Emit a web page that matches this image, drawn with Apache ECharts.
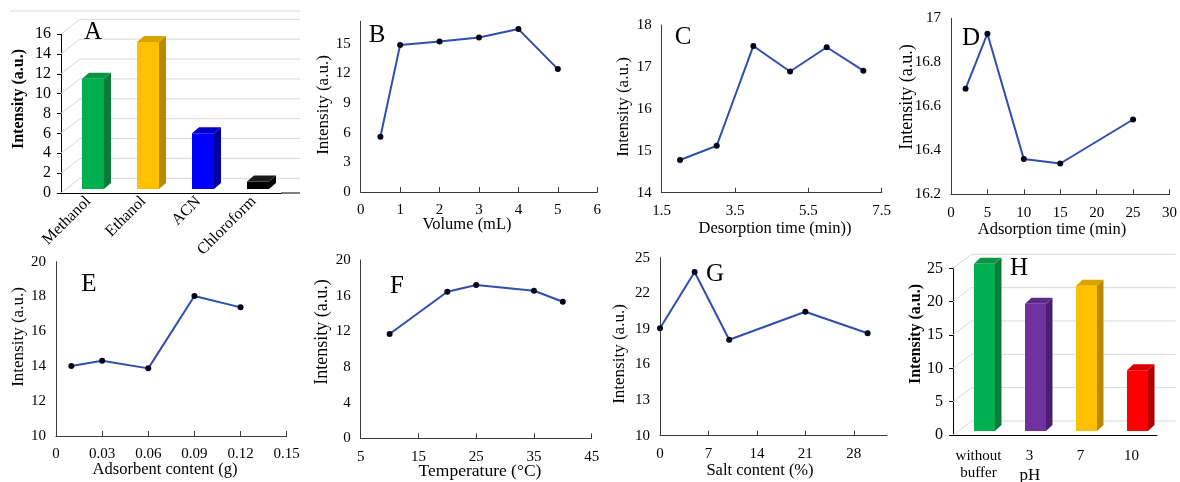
<!DOCTYPE html>
<html><head><meta charset="utf-8">
<script src="https://cdn.jsdelivr.net/npm/echarts@6.0.0/dist/echarts.min.js"></script>
<style>html,body{margin:0;padding:0;background:#fff}#c{width:1180px;height:482px}</style>
</head><body><div id="c"></div>
<script>
// ---- data ----
const catsA = ['Methanol', 'Ethanol', 'ACN', 'Chloroform'];
const valsA = [11.1, 14.8, 5.6, 0.75];
const ticksA = [0, 2, 4, 6, 8, 10, 12, 14, 16];

const xB = [0.5, 1, 2, 3, 4, 5];
const yB = [5.6, 14.9, 15.25, 15.65, 16.5, 12.45];

const xC = [2, 3, 4, 5, 6, 7];
const yC = [14.78, 15.12, 17.5, 16.89, 17.47, 16.91];

const xD = [2, 5, 10, 15, 25];
const yD = [16.68, 16.93, 16.36, 16.34, 16.54];

const xE = [0.01, 0.03, 0.06, 0.09, 0.12];
const yE = [14.02, 14.32, 13.88, 18.03, 17.38];

const xF = [10, 20, 25, 35, 40];
const yF = [11.7, 16.44, 17.19, 16.55, 15.32];

const xG = [0, 5, 10, 21, 30];
const yG = [19.05, 23.79, 18.09, 20.45, 18.63];

const catsH = ['without\nbuffer', '3', '7', '10'];
const valsH = [25.1, 19.1, 21.8, 9.1];
const ticksH = [0, 5, 10, 15, 20, 25];

// ---- styles ----
const FONT = 'Liberation Serif';
const colA = [['#00B050', '#0B7A3A', '#0A9444'], ['#FFC000', '#B98A00', '#D9A400'], ['#0000FF', '#00009E', '#0000C8'], ['#000000', '#000000', '#1a1a1a']];
const colH = [['#00B050', '#0B7A3A', '#0A9444'], ['#7030A0', '#4A1F6E', '#5E2888'], ['#FFC000', '#B98A00', '#D9A400'], ['#FF0000', '#B00000', '#D80000']];
const LINE = '#2E4FAF';
const AX = '#3a3a3a';

const chart = echarts.init(document.getElementById('c'));

const grids = [
  {left: 61, top: 34, width: 220, height: 159},       // A
  {left: 360.7, top: 21.2, width: 236.6, height: 170.8}, // B
  {left: 661.7, top: 25, width: 220, height: 167.7},   // C
  {left: 951, top: 18.3, width: 220.7, height: 176},   // D
  {left: 56, top: 261.7, width: 230.7, height: 174.3}, // E
  {left: 360.7, top: 260, width: 231, height: 178.3},  // F
  {left: 660, top: 257.7, width: 227, height: 178},    // G
  {left: 953, top: 268.3, width: 204, height: 166.7}   // H
];

const lblStyle = {fontFamily: FONT, fontSize: 15, color: '#000'};
function valX(i, min, max, interval, fmt, hideMax) {
  return {type: 'value', gridIndex: i, min, max, interval,
    axisLine: {show: true, lineStyle: {color: AX, width: 1}},
    axisTick: {show: true, inside: true, length: 5, lineStyle: {color: AX}},
    splitLine: {show: false},
    axisLabel: Object.assign({margin: 11, showMaxLabel: !hideMax, formatter: fmt}, lblStyle)};
}
function valY(i, min, max, interval, fmt, hideMax) {
  return {type: 'value', gridIndex: i, min, max, interval,
    axisLine: {show: true, lineStyle: {color: AX, width: 1}},
    axisTick: {show: false},
    splitLine: {show: false},
    axisLabel: Object.assign({margin: 10, showMaxLabel: !hideMax, formatter: fmt}, lblStyle)};
}
const f1 = v => String(+v.toFixed(1));
const f2 = v => String(+v.toFixed(2));

const xAxes = [
  {type: 'category', gridIndex: 0, data: catsA,
    axisLine: {show: true, lineStyle: {color: '#000'}}, axisTick: {show: false},
    axisLabel: {rotate: 45, interval: 0, margin: 6, fontFamily: FONT, fontSize: 16, color: '#000'}},
  valX(1, 0, 6, 1, f1),
  valX(2, 1.5, 7.5, 2, f1),
  valX(3, 0, 30, 5, f1),
  valX(4, 0, 0.15, 0.03, f2),
  valX(5, 5, 45, 10, f1),
  valX(6, 0, 32.8, 7, f1, true),
  {type: 'category', gridIndex: 7, data: catsH,
    axisLine: {show: true, lineStyle: {color: '#000'}}, axisTick: {show: false},
    axisLabel: {interval: 0, margin: 13, fontFamily: FONT, fontSize: 15, lineHeight: 17, color: '#000'}}
];
const yAxes = [
  {type: 'value', gridIndex: 0, min: 0, max: 16, interval: 2,
    axisLine: {show: true, lineStyle: {color: '#000'}},
    axisTick: {show: true, inside: false, length: 4, lineStyle: {color: '#000'}},
    splitLine: {show: false},
    axisLabel: {margin: 10, fontFamily: FONT, fontSize: 16, color: '#000'}},
  valY(1, 0, 17.3, 3, f1, true),
  valY(2, 14, 18, 1, f1),
  valY(3, 16.2, 17, 0.2, f1),
  valY(4, 10, 20, 2, f1),
  valY(5, 0, 20, 4, f1),
  valY(6, 10, 25, 3, f1),
  {type: 'value', gridIndex: 7, min: 0, max: 25, interval: 5,
    axisLine: {show: true, lineStyle: {color: '#000'}},
    axisTick: {show: true, inside: false, length: 4, lineStyle: {color: '#000'}},
    splitLine: {show: false},
    axisLabel: {margin: 10, fontFamily: FONT, fontSize: 16, color: '#000'}}
];

function wallRender(dx, dy) {
  return function (params, api) {
    const cs = params.coordSys;
    const y = api.coord([0, api.value(1)])[1];
    const l = cs.x, r = cs.x + cs.width + dx;
    return {type: 'polyline', shape: {points: [[l, y], [l + dx, y + dy], [r, y + dy]]},
      style: {stroke: '#d9d9d9', lineWidth: 1, fill: 'none'}};
  };
}
function barRender(cols, off, halfW, depth) {
  return function (params, api) {
    const idx = api.value(0), v = api.value(1);
    const b = api.coord([idx, 0]), t = api.coord([idx, v]);
    const cx = b[0] + off[0];
    const x0 = cx - halfW, x1 = cx + halfW;
    const yb = b[1] + off[1], yt = t[1] + off[1];
    const dx = depth[0], dy = depth[1];
    const c = cols[params.dataIndex];
    return {type: 'group', children: [
      {type: 'polygon', shape: {points: [[x1, yb], [x1, yt], [x1 + dx, yt + dy], [x1 + dx, yb + dy]]}, style: {fill: c[1]}},
      {type: 'polygon', shape: {points: [[x0, yt], [x1, yt], [x1 + dx, yt + dy], [x0 + dx, yt + dy]]}, style: {fill: c[2]}},
      {type: 'rect', shape: {x: x0, y: yt, width: x1 - x0, height: yb - yt}, style: {fill: c[0]}}
    ]};
  };
}
function lineSeries(i, xs, ys) {
  return {type: 'line', xAxisIndex: i, yAxisIndex: i, data: xs.map((x, k) => [x, ys[k]]),
    symbol: 'circle', symbolSize: 6, showSymbol: true,
    lineStyle: {color: LINE, width: 2}, itemStyle: {color: '#05051a'}, z: 3};
}

const series = [
  {type: 'custom', xAxisIndex: 0, yAxisIndex: 0, data: ticksA.map(v => [0, v]), renderItem: wallRender(19, -14.7), z: 1, silent: true},
  {type: 'custom', xAxisIndex: 0, yAxisIndex: 0, data: valsA.map((v, i) => [i, v]), renderItem: barRender(colA, [4.5, -4], 11, [7, -6]), z: 2},
  lineSeries(1, xB, yB),
  lineSeries(2, xC, yC),
  lineSeries(3, xD, yD),
  lineSeries(4, xE, yE),
  lineSeries(5, xF, yF),
  lineSeries(6, xG, yG),
  {type: 'custom', xAxisIndex: 7, yAxisIndex: 7, data: ticksH.map(v => [0, v]), renderItem: wallRender(18.5, -14), z: 1, silent: true},
  {type: 'custom', xAxisIndex: 7, yAxisIndex: 7, data: valsH.map((v, i) => [i, v]), renderItem: barRender(colH, [6, -4], 10.5, [6.5, -6]), z: 2}
];

function txt(s, x, y, size, opts) {
  opts = opts || {};
  return {type: 'text', x, y, rotation: opts.rot ? Math.PI / 2 : 0, z: 10,
    style: {text: s, font: (opts.bold ? 'bold ' : '') + size + 'px "' + FONT + '"', fill: '#000', align: 'center', verticalAlign: 'middle'}};
}
const graphic = [
  {type: 'line', shape: {x1: 10, y1: 11, x2: 300, y2: 11}, style: {stroke: '#d9d9d9', lineWidth: 1}},
  {type: 'line', shape: {x1: 281, y1: 193, x2: 300, y2: 193}, style: {stroke: '#000', lineWidth: 1}},
  txt('A', 93, 32, 25), txt('B', 377, 35, 25), txt('C', 683, 37, 25), txt('D', 971, 38, 25),
  txt('E', 89, 284, 25), txt('F', 397, 286, 25), txt('G', 715, 274, 25), txt('H', 1019, 268, 25),
  txt('Intensity (a.u.)', 19, 99, 16, {rot: true, bold: true}),
  txt('Intensity (a.u.)', 324, 105, 17, {rot: true}),
  txt('Intensity (a.u.)', 624, 107, 17, {rot: true}),
  txt('Intensity (a.u.)', 907, 97, 18, {rot: true}),
  txt('Intensity (a.u.)', 19, 337, 17, {rot: true}),
  txt('Intensity (a.u.)', 322, 332, 18, {rot: true}),
  txt('Intensity (a.u.)', 620, 354, 17, {rot: true}),
  txt('Intensity (a.u.)', 916, 334, 16, {rot: true, bold: true}),
  txt('Volume (mL)', 467, 225, 16.5),
  txt('Desorption time (min))', 775, 229, 16.5),
  txt('Adsorption time (min)', 1052, 230, 16.5),
  txt('Adsorbent content (g)', 165, 470, 16.5),
  txt('Temperature (°C)', 480, 471, 17.5),
  txt('Salt content (%)', 760, 471, 16.5),
  txt('pH', 1030, 476, 17)
];

chart.setOption({
  animation: false,
  backgroundColor: '#fff',
  grid: grids,
  xAxis: xAxes,
  yAxis: yAxes,
  series,
  graphic
});
</script></body></html>
